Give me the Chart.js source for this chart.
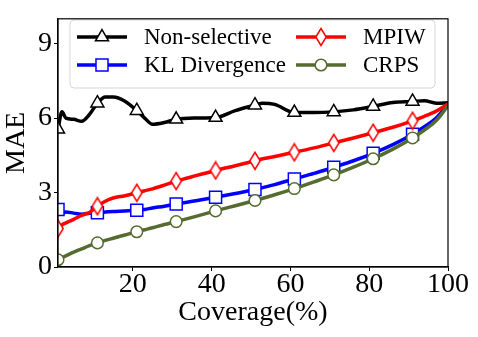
<!DOCTYPE html>
<html>
<head>
<meta charset="utf-8">
<script src="https://cdn.jsdelivr.net/npm/chart.js@4.4.1/dist/chart.umd.min.js"></script>
<style>
  html, body { margin: 0; padding: 0; background: #fff; }
  canvas { display: block; }
</style>
</head>
<body>
<canvas id="maeChart" width="478" height="337"></canvas>
<script>
    const coverage = [1, 2, 3, 5, 7, 9, 11, 13, 15, 18, 21, 23, 25, 28, 31, 36, 41, 46, 51, 53, 56, 61, 66, 71, 76, 81, 86, 91, 94, 97, 100];
    const nonSelective = [5.55, 6.25, 6.0, 5.95, 5.87, 6.15, 6.6, 6.85, 6.85, 6.68, 6.3, 6.0, 5.75, 5.82, 5.95, 6.0, 6.02, 6.3, 6.52, 6.6, 6.55, 6.22, 6.22, 6.25, 6.33, 6.47, 6.63, 6.67, 6.7, 6.6, 6.62];
    const klDivergence = [2.32, 2.15, 2.22, 2.17, 2.13, 2.17, 2.19, 2.22, 2.24, 2.26, 2.29, 2.32, 2.38, 2.45, 2.54, 2.67, 2.81, 2.96, 3.12, 3.2, 3.32, 3.55, 3.77, 4.02, 4.28, 4.58, 4.93, 5.35, 5.65, 6.0, 6.55];
    const mpiw = [1.55, 1.7, 1.78, 1.92, 2.08, 2.2, 2.45, 2.65, 2.78, 2.87, 2.99, 3.07, 3.15, 3.3, 3.46, 3.68, 3.89, 4.08, 4.28, 4.36, 4.45, 4.62, 4.8, 5.0, 5.2, 5.41, 5.63, 5.89, 6.07, 6.28, 6.57];
    const crps = [0.29, 0.38, 0.45, 0.6, 0.73, 0.86, 0.97, 1.07, 1.16, 1.29, 1.42, 1.5, 1.58, 1.71, 1.83, 2.04, 2.26, 2.47, 2.68, 2.77, 2.91, 3.16, 3.43, 3.71, 4.02, 4.36, 4.75, 5.2, 5.52, 5.9, 6.5];
    const markerAt = [1, 11, 21, 31, 41, 51, 61, 71, 81, 91];
    const xTicks = [20, 40, 60, 80, 100];
    const yTicks = [0, 3, 6, 9];

    const serif = "'Liberation Serif', 'Times New Roman', serif";
    const olive = "#556b2f";

    // thin diamond like matplotlib "d"
    function thinDiamond(color) {
      const c = document.createElement("canvas");
      c.width = 14;
      c.height = 20;
      const g = c.getContext("2d");
      g.beginPath();
      g.moveTo(7, 1.5);
      g.lineTo(12.2, 10);
      g.lineTo(7, 18.5);
      g.lineTo(1.8, 10);
      g.closePath();
      g.fillStyle = "#fff";
      g.fill();
      g.lineWidth = 1.5;
      g.strokeStyle = color;
      g.stroke();
      return c;
    }
    const diamondImg = thinDiamond("#ff0000");

    function pts(vals) {
      return coverage.map((x, i) => ({ x: x, y: vals[i] }));
    }

    function markerRadius(r) {
      return function(ctx) {
        return markerAt.includes(coverage[ctx.dataIndex]) ? r : 0;
      };
    }

    const series = [
      { label: "Non-selective", data: nonSelective, color: "#000000", style: "triangle", r: 7.5 },
      { label: "KL Divergence", data: klDivergence, color: "#0000ff", style: "rect", r: 8.5 },
      { label: "MPIW", data: mpiw, color: "#ff0000", style: diamondImg, r: 8 },
      { label: "CRPS", data: crps, color: olive, style: "circle", r: 5.8 }
    ];

    const datasets = series.slice().reverse().map(s => ({
      label: s.label,
      data: pts(s.data),
      borderColor: s.color,
      borderWidth: 3.5,
      pointStyle: s.style,
      pointRadius: markerRadius(s.r),
      pointHoverRadius: 0,
      pointBackgroundColor: "#fff",
      pointBorderColor: s.color,
      pointBorderWidth: 1.5,
      cubicInterpolationMode: "monotone",
      fill: false
    }));

    const legendPlugin = {
      id: "boxLegend",
      afterDatasetsDraw(chart) {
        const ctx = chart.ctx;
        const left = 70, top = 20, w = 365, h = 68;
        ctx.save();
        ctx.beginPath();
        ctx.roundRect(left, top, w, h, 4);
        ctx.fillStyle = "rgba(255,255,255,0.85)";
        ctx.fill();
        ctx.lineWidth = 1;
        ctx.strokeStyle = "#d6d6d6";
        ctx.stroke();

        const cells = [
          { s: series[0], x: 77, y: 37 },
          { s: series[1], x: 77, y: 65 },
          { s: series[2], x: 296, y: 37 },
          { s: series[3], x: 296, y: 65 }
        ];
        cells.forEach(cell => {
          const s = cell.s;
          ctx.beginPath();
          ctx.moveTo(cell.x, cell.y);
          ctx.lineTo(cell.x + 50, cell.y);
          ctx.lineWidth = 3.5;
          ctx.strokeStyle = s.color;
          ctx.stroke();
          ctx.fillStyle = "#fff";
          ctx.strokeStyle = s.color;
          ctx.lineWidth = 1.5;
          Chart.helpers.drawPoint(ctx, { pointStyle: s.style, radius: s.r, rotation: 0, borderWidth: 1.5 }, cell.x + 25, cell.y);
          ctx.fillStyle = "#000";
          ctx.font = "23px " + serif;
          ctx.textBaseline = "middle";
          ctx.textAlign = "left";
          ctx.fillText(s.label, cell.x + 67, cell.y + 1);
        });
        ctx.restore();
      },
      afterDraw(chart) {
        const a = chart.chartArea;
        const ctx = chart.ctx;
        ctx.save();
        ctx.lineWidth = 1.2;
        ctx.strokeStyle = "#000";
        ctx.strokeRect(a.left, a.top, a.right - a.left, a.bottom - a.top);
        ctx.restore();
      }
    };

    const chart = new Chart(document.getElementById("maeChart").getContext("2d"), {
      type: "line",
      data: { datasets: datasets },
      plugins: [legendPlugin],
      options: {
        responsive: false,
        animation: false,
        layout: { padding: { left: 0, top: 8, right: 30, bottom: 0 } },
        plugins: { legend: { display: false }, tooltip: { enabled: false } },
        scales: {
          x: {
            type: "linear",
            min: 1,
            max: 100,
            afterBuildTicks: s => { s.ticks = xTicks.map(v => ({ value: v })); },
            afterFit: s => { s.height = 70; },
            grid: { drawOnChartArea: false, drawTicks: true, tickLength: 4, color: "#000" },
            border: { display: true, color: "#000", width: 1.2 },
            ticks: { color: "#000", font: { family: serif, size: 28 }, padding: -3, maxRotation: 0 },
            title: { display: true, text: "Coverage(%)", color: "#000", font: { family: serif, size: 28 }, padding: { top: 0, bottom: 8 } }
          },
          y: {
            min: 0,
            max: 10,
            afterBuildTicks: s => { s.ticks = yTicks.map(v => ({ value: v })); },
            afterFit: s => { s.width = 58; },
            grid: { drawOnChartArea: false, drawTicks: true, tickLength: 4, color: "#000" },
            border: { display: true, color: "#000", width: 1.2 },
            ticks: { color: "#000", font: { family: serif, size: 28 }, padding: 2 },
            title: { display: true, text: "MAE", color: "#000", font: { family: serif, size: 28 }, padding: { top: 0, bottom: 0 } }
          }
        }
      }
    });
</script>
</body>
</html>
